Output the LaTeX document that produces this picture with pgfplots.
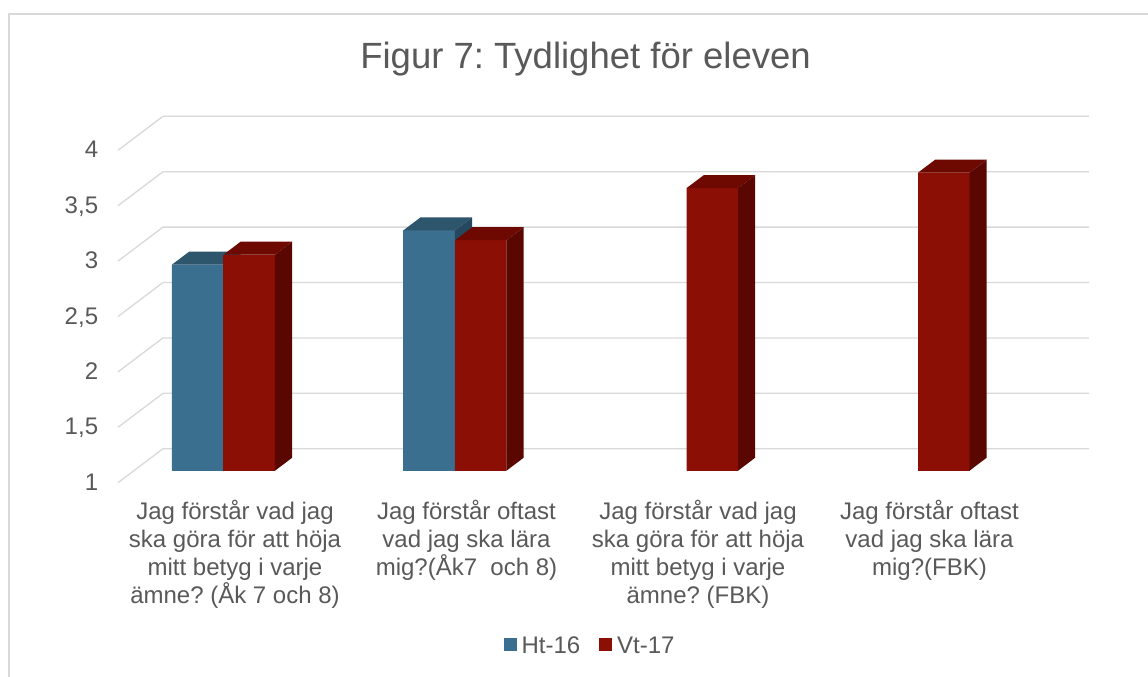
\documentclass[border=0pt]{standalone}
\usepackage{pgfplots}
\pgfplotsset{compat=1.18}
\usepackage{pgfplotstable}
\usepackage{fontspec}
\setmainfont{Liberation Sans}
\frenchspacing
\definecolor{textgray}{RGB}{89,89,89}
\definecolor{gridgray}{RGB}{217,217,217}
\definecolor{htfront}{RGB}{59,111,143}
\definecolor{httop}{RGB}{45,85,108}
\definecolor{htside}{RGB}{38,72,94}
\definecolor{vtfront}{RGB}{139,15,4}
\definecolor{vttop}{RGB}{110,9,2}
\definecolor{vtside}{RGB}{90,6,1}

\pgfplotstableread{
x v
0 2.86
1 3.17
}\htdata
\pgfplotstableread{
x v
0 2.95
1 3.08
2 3.55
3 3.69
}\vtdata

\begin{document}
\begin{tikzpicture}
\useasboundingbox (0pt,0pt) rectangle (1148pt,-677pt);
\fill[white] (0pt,0pt) rectangle (1148pt,-677pt);
\draw[gridgray, line width=1.3pt] (9pt,-677pt) -- (9pt,-14pt) -- (1148pt,-14pt);
\node[anchor=base, inner sep=0pt, font=\fontsize{36.5}{44}\selectfont, text=textgray] at (585.5pt,-68pt) {Figur 7: Tydlighet för eleven};
\begin{axis}[
  at={(133.9pt,-470.7pt)}, anchor=south west,
  x=231.5pt, y=110.8pt,
  xmin=-0.387, xmax=3.613, ymin=0, ymax=3,
  clip=false,
  axis line style={draw=none},
  tick style={draw=none},
  major tick length=0pt,
  xtick={0,1,2,3},
  xticklabels={
    {Jag förstår vad jag\\ska göra för att höja\\mitt betyg i varje\\ämne? (Åk 7 och 8)},
    {Jag förstår oftast\\vad jag ska lära\\mig?(Åk7\ \ och 8)},
    {Jag förstår vad jag\\ska göra för att höja\\mitt betyg i varje\\ämne? (FBK)},
    {Jag förstår oftast\\vad jag ska lära\\mig?(FBK)}},
  xticklabel style={align=center, anchor=north, inner sep=0pt, xshift=11.5pt, yshift=-29pt,
    font=\fontsize{24}{28}\selectfont, text=textgray},
  ytick={0,0.5,1,1.5,2,2.5,3},
  yticklabels={1,{1,5},2,{2,5},3,{3,5},4},
  yticklabel style={anchor=east, inner sep=0pt, xshift=-35.6pt, yshift=-11pt,
    text height=17.2pt, text depth=0pt,
    font=\fontsize{24}{28}\selectfont, text=textgray},
  legend columns=2,
  legend style={draw=none, fill=none, at={(0.4915,-0.5259)}, anchor=center,
    font=\fontsize{24}{28}\selectfont, text=textgray, inner sep=0pt,
    nodes={inner sep=0pt},
    /tikz/every odd column/.append style={column sep=5pt},
    /tikz/every even column/.append style={column sep=19pt}},
]
\pgfplotsinvokeforeach{0,0.5,1,1.5,2,2.5,3}{
  \draw[gridgray, line width=1.3pt] (axis cs:-0.387,#1) ++(-15.9pt,-12pt) -- ++(45pt,34pt) -- ([shift={(29.1pt,22pt)}]axis cs:3.613,#1);
}
% Ht-16
\addplot[ybar, bar width=51.5pt, bar shift=-25.75pt, fill=htfront, draw=none,
  legend image code/.code={\fill[htfront] (0pt,-5.5pt) rectangle (13pt,7.5pt);}]
  table[x=x, y expr=\thisrow{v}-1] {\htdata};
\addlegendentry{Ht-16}
\addplot[forget plot, scatter, only marks, mark=*, mark size=0pt,
  mark options={draw opacity=0, fill opacity=0},
  visualization depends on={\thisrow{v}-1 \as \hh},
  scatter/@pre marker code/.code={%
    \fill[htfront, fill opacity=1] (-51.5pt,0pt) rectangle (0pt,{-\hh*110.8pt});
    \fill[httop, fill opacity=1] (-51.5pt,0pt) -- (-34.3pt,13pt) -- (17.2pt,13pt) -- (0pt,0pt) -- cycle;
    \fill[htside, fill opacity=1] (0pt,0pt) -- (17.2pt,13pt) -- (17.2pt,{13pt-\hh*110.8pt}) -- (0pt,{-\hh*110.8pt}) -- cycle;
  },
  scatter/@post marker code/.code={}]
  table[x=x, y expr=\thisrow{v}-1] {\htdata};
% Vt-17
\addplot[ybar, bar width=51.5pt, bar shift=25.75pt, fill=vtfront, draw=none,
  legend image code/.code={\fill[vtfront] (0pt,-5.5pt) rectangle (13pt,7.5pt);}]
  table[x=x, y expr=\thisrow{v}-1] {\vtdata};
\addlegendentry{Vt-17}
\addplot[forget plot, scatter, only marks, mark=*, mark size=0pt,
  mark options={draw opacity=0, fill opacity=0},
  visualization depends on={\thisrow{v}-1 \as \hh},
  scatter/@pre marker code/.code={%
    \fill[vtfront, fill opacity=1] (0pt,0pt) rectangle (51.5pt,{-\hh*110.8pt});
    \fill[vttop, fill opacity=1] (0pt,0pt) -- (17.2pt,13pt) -- (68.7pt,13pt) -- (51.5pt,0pt) -- cycle;
    \fill[vtside, fill opacity=1] (51.5pt,0pt) -- (68.7pt,13pt) -- (68.7pt,{13pt-\hh*110.8pt}) -- (51.5pt,{-\hh*110.8pt}) -- cycle;
  },
  scatter/@post marker code/.code={}]
  table[x=x, y expr=\thisrow{v}-1] {\vtdata};
\end{axis}
\end{tikzpicture}
\end{document}
